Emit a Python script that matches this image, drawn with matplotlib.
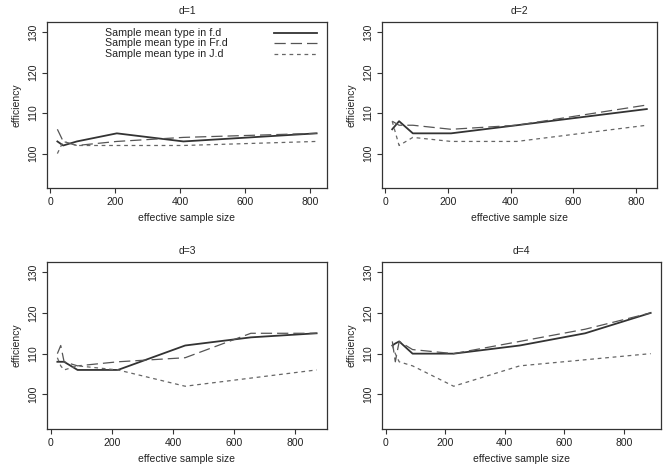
import numpy as np
import matplotlib
matplotlib.use("Agg")
import matplotlib.pyplot as plt

plt.rcParams['font.family'] = ['Liberation Sans', 'DejaVu Sans']
plt.rcParams['font.size'] = 7.5

# effective sample size per panel
x_d1 = [22, 40, 82, 205, 410, 820]
x_d2 = [22, 44, 88, 210, 420, 835]
x_d3 = [22, 33, 44, 88, 220, 440, 655, 870]
x_d4 = [22, 32, 45, 90, 228, 450, 670, 890]

# efficiency, three estimator types
fd_d1 = [103, 102, 103, 105, 103, 105]
frd_d1 = [106, 103, 102, 103, 104, 105]
jd_d1 = [100, 103, 102, 102, 102, 103]

fd_d2 = [106, 108, 105, 105, 107, 111]
frd_d2 = [108, 107, 107, 106, 107, 112]
jd_d2 = [108, 102, 104, 103, 103, 107]

fd_d3 = [108, 108, 108, 106, 106, 112, 114, 115]
frd_d3 = [110, 112, 108, 107, 108, 109, 115, 115]
jd_d3 = [109, 107, 106, 107, 106, 102, 104, 106]

fd_d4 = [112, 112.5, 113, 110, 110, 112, 115, 120]
frd_d4 = [113, 108, 113, 111, 110, 113, 116, 120]
jd_d4 = [112, 110, 108, 107, 102, 107, 108.5, 110]

labels = ['Sample mean type in f.d', 'Sample mean type in Fr.d', 'Sample mean type in J.d']

panels = [
    ('d=1', x_d1, fd_d1, frd_d1, jd_d1, [47, 22, 327, 188]),
    ('d=2', x_d2, fd_d2, frd_d2, jd_d2, [382, 22, 657, 188]),
    ('d=3', x_d3, fd_d3, frd_d3, jd_d3, [47, 262, 327, 429]),
    ('d=4', x_d4, fd_d4, frd_d4, jd_d4, [382, 262, 661, 429]),
]

styles = [
    dict(color='#333333', linewidth=1.3, linestyle='-'),
    dict(color='#555555', linewidth=0.9, linestyle=(0, (9, 4))),
    dict(color='#666666', linewidth=0.9, linestyle=(0, (3, 3))),
]

W, H = 665, 466
fig = plt.figure(figsize=(W / 100, H / 100), dpi=100)

txt = '#222222'
for i, (title, x, fd, frd, jd, box) in enumerate(panels):
    l, t, r, b = box
    ax = fig.add_axes([l / W, 1 - b / H, (r - l) / W, (b - t) / H])
    for ys, st in zip([fd, frd, jd], styles):
        ax.plot(x, ys, **st)

    rng = max(x) - min(x)
    ax.set_xlim(min(x) - 0.04 * rng, max(x) + 0.04 * rng)
    ax.set_ylim(91.5, 132.5)
    ax.set_xticks([0, 200, 400, 600, 800])
    ax.set_yticks([100, 110, 120, 130])
    ax.tick_params(direction='out', length=3.5, width=0.8, colors='#333333',
                   labelcolor=txt, labelsize=7.5, pad=3)
    for lab in ax.get_yticklabels():
        lab.set_rotation(90)
        lab.set_va('center')
    for s in ax.spines.values():
        s.set_linewidth(0.9)
        s.set_color('#333333')
    ax.set_title(title, fontsize=7.5, color=txt, pad=6)
    ax.set_xlabel('effective sample size', fontsize=7.5, color=txt, labelpad=4)
    ax.set_ylabel('efficiency', fontsize=7.5, color=txt, labelpad=5)

    if i == 0:
        # R-style legend: labels left, line samples at the right
        for k, (lab, st) in enumerate(zip(labels, styles)):
            yy = 0.936 - k * 0.0635
            ax.text(0.207, yy, lab, transform=ax.transAxes, ha='left', va='center',
                    fontsize=7.7, color=txt)
            ax.plot([0.811, 0.964], [yy, yy], transform=ax.transAxes, **st)

fig.savefig('out.png', dpi=100)
